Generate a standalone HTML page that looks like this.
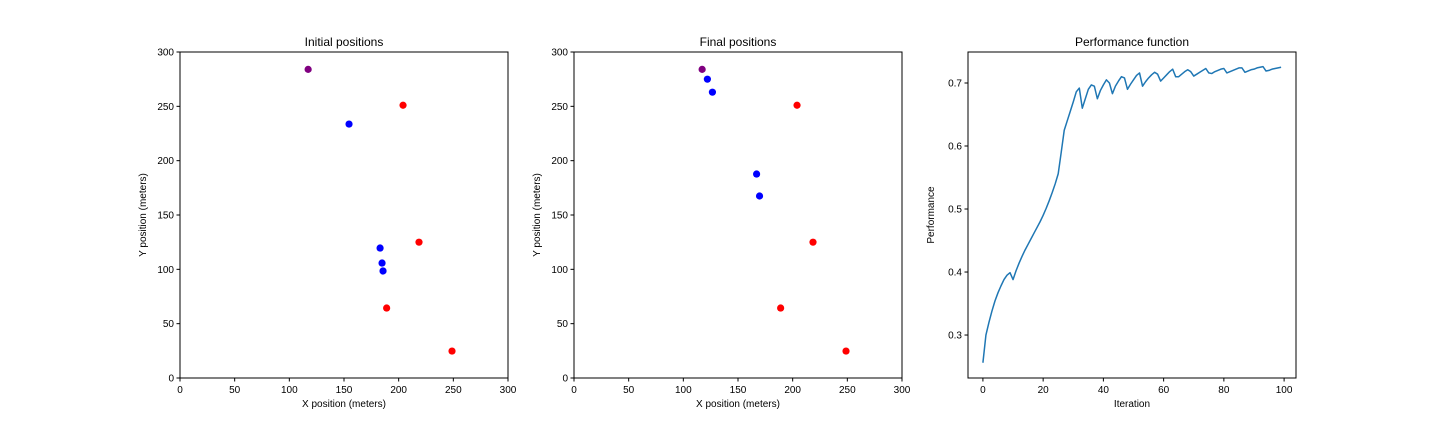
<!DOCTYPE html>
<html><head><meta charset="utf-8"><style>
body{margin:0;background:#fff;}
svg{display:block;font-family:"Liberation Sans","DejaVu Sans",sans-serif;}
</style></head><body>
<svg id="fig" width="1440" height="432"></svg>
<script>
const initBlueX=[154.6,183,184.8,185.7], initBlueY=[233.7,119.6,105.8,98.5];
const redX=[204,218.6,189,248.8], redY=[251,125,64.4,24.8];
const purpleX=[117.2], purpleY=[284];
const finalBlueX=[122,126.6,167,169.7], finalBlueY=[275,263,187.7,167.5];
const posTicks=[0,50,100,150,200,250,300];
const perf=[0.256,0.300,0.320,0.338,0.354,0.367,0.378,0.388,0.395,0.399,0.388,0.402,0.414,0.425,0.435,0.444,0.453,0.462,0.471,0.480,0.490,0.501,0.513,0.526,0.540,0.556,0.590,0.625,0.640,0.655,0.670,0.686,0.692,0.660,0.675,0.690,0.697,0.695,0.675,0.688,0.697,0.705,0.700,0.683,0.695,0.703,0.710,0.708,0.690,0.698,0.705,0.712,0.716,0.695,0.702,0.708,0.713,0.717,0.714,0.703,0.708,0.713,0.718,0.722,0.710,0.710,0.714,0.718,0.721,0.718,0.711,0.714,0.717,0.720,0.723,0.716,0.715,0.718,0.720,0.722,0.723,0.716,0.718,0.720,0.722,0.724,0.724,0.717,0.719,0.721,0.722,0.724,0.725,0.726,0.719,0.720,0.722,0.723,0.724,0.725];
const perfXTicks=[0,20,40,60,80,100];
const perfYTicks=[0.3,0.4,0.5,0.6,0.7];
const NS="http://www.w3.org/2000/svg";
const svg=document.getElementById('fig');
function mk(t,a,p){const e=document.createElementNS(NS,t);for(const k in a)e.setAttribute(k,a[k]);(p||svg).appendChild(e);return e;}
function panel(x0,x1,y0,y1,dx,dy,title,xl,yl,xt,yt,fmt,name){
  const g=mk('g',{});
  
  
  const sx=v=>x0+(v-dx[0])/(dx[1]-dx[0])*(x1-x0);
  const sy=v=>y1-(v-dy[0])/(dy[1]-dy[0])*(y1-y0);
  mk('rect',{x:x0,y:y0,width:x1-x0,height:y1-y0,fill:'none',stroke:'#000','stroke-width':1},g);
  xt.forEach(v=>{const x=sx(v);mk('line',{x1:x,x2:x,y1:y1,y2:y1+3.5,stroke:'#000'},g);
    const t=mk('text',{x:x,y:y1+15,'font-size':10,'text-anchor':'middle'},g);t.textContent=v;
    });
  yt.forEach(v=>{const y=sy(v);mk('line',{x1:x0-3.5,x2:x0,y1:y,y2:y,stroke:'#000'},g);
    const t=mk('text',{x:x0-6,y:y+3.5,'font-size':10,'text-anchor':'end'},g);t.textContent=fmt(v);
    });
  let t=mk('text',{x:(x0+x1)/2,y:y0-6,'font-size':12,'text-anchor':'middle'},g);t.textContent=title;
  
  t=mk('text',{x:(x0+x1)/2,y:y1+29,'font-size':10,'text-anchor':'middle'},g);t.textContent=xl;
  
  const cy=(y0+y1)/2;
  t=mk('text',{x:x0-34,y:cy,'font-size':10,'text-anchor':'middle',transform:`rotate(-90 ${x0-34} ${cy})`},g);t.textContent=yl;
  
  return {g,sx,sy};
}
function dots(p,xs,ys,c,name){xs.forEach((x,i)=>{const e=mk('circle',{cx:p.sx(x),cy:p.sy(ys[i]),r:3.6,fill:c},p.g);
  });}
const id=v=>v;
const p1=panel(180,508,52,378,[0,300],[0,300],'Initial positions','X position (meters)','Y position (meters)',posTicks,posTicks,id,'initial-positions-chart');
dots(p1,initBlueX,initBlueY,'#0000ff','blue-point');dots(p1,redX,redY,'#ff0000','red-point');dots(p1,purpleX,purpleY,'#800080','purple-point');
const p2=panel(574,902,52,378,[0,300],[0,300],'Final positions','X position (meters)','Y position (meters)',posTicks,posTicks,id,'final-positions-chart');
dots(p2,finalBlueX,finalBlueY,'#0000ff','blue-point');dots(p2,redX,redY,'#ff0000','red-point');dots(p2,purpleX,purpleY,'#800080','purple-point');
const p3=panel(968,1296,52,378,[-4.95,103.95],[0.2318,0.7492],'Performance function','Iteration','Performance',perfXTicks,perfYTicks,v=>v.toFixed(1),'performance-chart');
const d=perf.map((v,i)=>(i?'L':'M')+p3.sx(i).toFixed(2)+','+p3.sy(v).toFixed(2)).join('');
const ln=mk('path',{d:d,fill:'none',stroke:'#1f77b4','stroke-width':1.5,'stroke-linejoin':'round'},p3.g);


</script>
</body></html>
